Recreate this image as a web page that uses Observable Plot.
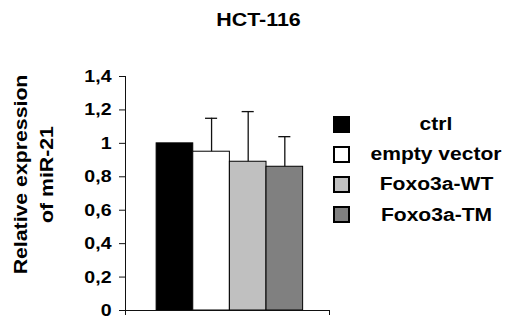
<!DOCTYPE html>
<html><head><meta charset="utf-8">
<script src="https://cdn.jsdelivr.net/npm/d3@7"></script>
<script src="https://cdn.jsdelivr.net/npm/@observablehq/plot@0.6"></script>
<style>
body{margin:0;background:#fff;font-family:"Liberation Sans",Arial,sans-serif;}
#wrap{position:relative;width:509px;height:322px;overflow:hidden;}
#title{height:40px;line-height:40px;font-size:18px;font-weight:bold;text-align:center;padding-left:8px;box-sizing:border-box;width:509px;color:#000}
#title span{display:inline-block;transform:scaleX(1.19)}
#legend{position:absolute;left:333px;top:109px}
.row{display:flex;align-items:center;height:30.2px}
.sw{width:17px;height:17px;box-sizing:border-box;border:2px solid #000;flex:none}
.lab{width:150px;margin-left:11.5px;text-align:center;font-size:18px;font-weight:bold;color:#000;line-height:20px}
.lab span{display:inline-block;transform:scaleX(1.17)}
#chart svg{display:block}
</style></head>
<body><div id="wrap"><div id="title"><span></span></div><div id="chart"></div><div id="legend"></div></div>
<script>
const title = "HCT-116";
const categories = ["ctrl", "empty vector", "Foxo3a-WT", "Foxo3a-TM"];
const values = [1.00, 0.95, 0.89, 0.86];
const errors = [0, 0.20, 0.30, 0.18];
const colors = ["#000000", "#ffffff", "#c0c0c0", "#808080"];
const yTicks = [0, 0.2, 0.4, 0.6, 0.8, 1, 1.2, 1.4];
const yTickLabels = ["0", "0,2", "0,4", "0,6", "0,8", "1", "1,2", "1,4"];
const yLabel = "Relative expression\nof miR-21";

const data = categories.map((c, i) => ({category: c, value: values[i], error: errors[i], pos: i}));
const withErr = data.filter(d => d.error > 0);
const xMin = -1.35, xMax = 4.22;

document.querySelector("#title span").textContent = title;

const chart = Plot.plot({
  width: 509, height: 282,
  marginTop: 36, marginBottom: 12, marginLeft: 125, marginRight: 180,
  style: {fontFamily: "'Liberation Sans', Arial, sans-serif", fontSize: "17px", fontWeight: "bold", color: "#000", background: "#fff"},
  x: {type: "linear", domain: [xMin, xMax], axis: null},
  y: {domain: [0, 1.4], axis: null},
  color: {domain: categories, range: colors},
  marks: [
    Plot.rectY(data, {x1: d => d.pos - 0.5, x2: d => d.pos + 0.5, y1: 0, y2: "value", fill: "category", stroke: "#000", strokeWidth: 1}),
    Plot.ruleX(withErr, {x: "pos", y1: "value", y2: d => d.value + d.error, stroke: "#111", strokeWidth: 1.3}),
    Plot.ruleY(withErr, {y: d => d.value + d.error, x1: d => d.pos - 0.165, x2: d => d.pos + 0.165, stroke: "#111", strokeWidth: 1.3}),
    Plot.axisY({ticks: yTicks, tickFormat: d => yTickLabels[yTicks.indexOf(d)], tickSize: 6, tickPadding: 8, label: null, stroke: "#111"}),
    Plot.ruleX([xMin], {y1: 0, y2: 1.4, stroke: "#111"}),
    Plot.ruleY([0], {stroke: "#111"}),
    Plot.axisX({ticks: [xMin, xMax], tickFormat: () => "", tickSize: 5, label: null, stroke: "#111"}),
    Plot.text([yLabel], {frameAnchor: "left", textAnchor: "middle", lineAnchor: "middle", dx: -93.5, dy: -19, rotate: -90, fontSize: 18.5, lineHeight: 1.37, fill: "#000"})
  ]
});
document.getElementById("chart").append(chart);

// widen glyphs along the text direction, like the reference's typeface
for (const t of chart.querySelectorAll("text")) {
  const x = parseFloat(t.getAttribute("x")) || 0;
  const tr = t.getAttribute("transform") || "";
  t.setAttribute("transform", `${tr} translate(${x},0) scale(1.15,1) translate(${-x},0)`.trim());
}

const legend = d3.select("#legend");
categories.forEach((c, i) => {
  const row = legend.append("div").attr("class", "row");
  row.append("div").attr("class", "sw").style("background", colors[i]);
  row.append("div").attr("class", "lab").append("span").text(c);
});
</script>
</body></html>
